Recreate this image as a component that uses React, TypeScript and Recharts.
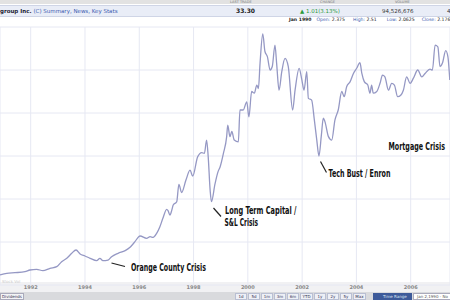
import { CartesianGrid, Line, LineChart, XAxis, YAxis } from "recharts";

// monthly-ish closes (split adjusted, USD)
const years = [
  1990.87, 1991.12, 1991.42, 1991.79, 1991.97, 1992.22, 1992.45, 1992.71, 1992.96, 1993.14,
  1993.33, 1993.51, 1993.67, 1993.82, 1994.0, 1994.19, 1994.43, 1994.55, 1994.66, 1994.85,
  1994.98, 1995.22, 1995.48, 1995.66, 1995.77, 1995.84, 1996.03, 1996.27, 1996.4, 1996.51,
  1996.64, 1996.76, 1996.87, 1997.01, 1997.06, 1997.13, 1997.2, 1997.25, 1997.38, 1997.46,
  1997.56, 1997.72, 1997.87, 1997.97, 1998.15, 1998.3, 1998.4, 1998.48, 1998.54, 1998.61,
  1998.66, 1998.79, 1998.9, 1998.98, 1999.1, 1999.22, 1999.26, 1999.34, 1999.41, 1999.5,
  1999.65, 1999.71, 1999.83, 1999.96, 2000.04, 2000.14, 2000.24, 2000.33, 2000.39, 2000.45,
  2000.55, 2000.63, 2000.72, 2000.82, 2000.9, 2001.0, 2001.06, 2001.15, 2001.25, 2001.37,
  2001.49, 2001.65, 2001.74, 2001.89, 2001.99, 2002.07, 2002.17, 2002.23, 2002.35, 2002.45,
  2002.54, 2002.62, 2002.71, 2002.78, 2002.84, 2002.97, 2003.09, 2003.21, 2003.33, 2003.46,
  2003.55, 2003.64, 2003.77, 2003.89, 2004.01, 2004.13, 2004.2, 2004.29, 2004.42, 2004.5,
  2004.56, 2004.62, 2004.75, 2004.87, 2004.96, 2005.05, 2005.18, 2005.3, 2005.4, 2005.52,
  2005.64, 2005.73, 2005.85, 2005.98, 2006.1, 2006.26, 2006.41, 2006.53, 2006.71, 2006.8,
  2006.9, 2007.0, 2007.08, 2007.17, 2007.29, 2007.37, 2007.44,
];
const prices = [
  2.33, 2.72, 2.86, 3.09, 3.49, 3.65, 3.33, 3.88, 4.26, 5.42,
  6.21, 7.37, 8.14, 7.21, 6.74, 6.21, 5.65, 6.21, 5.65, 5.81,
  6.58, 7.37, 7.98, 8.77, 9.53, 10.07, 11.4, 10.86, 11.23, 11.09,
  12.02, 13.56, 15.51, 17.6, 17.28, 16.28, 17.44, 18.6, 19.37, 23.4,
  21.5, 24.4, 26.7, 25.3, 29.8, 30.8, 30.6, 33.7, 29.8, 22.1,
  19.4, 23.5, 26.3, 27.5, 30.6, 34.5, 37.2, 34.5, 35.7, 33.7,
  33.3, 40.7, 40.7, 42.6, 39.1, 45.0, 44.6, 46.5, 45.7, 51.6,
  58.4, 54.3, 53.1, 50.0, 50.8, 55.8, 51.6, 45.3, 49.6, 52.7,
  50.8, 40.7, 45.3, 50.4, 47.7, 45.3, 49.6, 43.4, 43.0, 38.4,
  33.7, 30.0, 34.9, 38.8, 38.0, 34.5, 33.7, 38.4, 40.7, 45.0,
  43.8, 46.1, 47.3, 49.2, 50.4, 51.7, 49.2, 47.3, 46.5, 44.6,
  46.5, 44.6, 45.0, 46.9, 48.8, 48.4, 45.3, 46.9, 46.5, 43.8,
  44.2, 45.3, 48.4, 46.9, 48.1, 50.0, 48.4, 49.2, 50.2, 50.0,
  55.8, 55.4, 50.8, 51.6, 54.5, 53.1, 47.7,
];
const yearTicks = [1992, 1994, 1996, 1998, 2000, 2002, 2004, 2006];
const priceTicks = [10, 20, 30, 40, 50];
const periodButtons = ["1d", "5d", "1m", "3m", "6m", "YTD", "1y", "2y", "5y", "Max"];

const data = years.map((t, i) => ({ t, price: prices[i] }));

const annoFont = "'Liberation Sans Narrow', 'DejaVu Sans Condensed', 'Liberation Sans', sans-serif";

export default function App() {
  return (
    <div
      style={{
        position: "absolute",
        left: 0,
        top: 0,
        width: 450,
        height: 300,
        overflow: "hidden",
        background: "#fff",
        fontFamily: "'DejaVu Sans', Verdana, sans-serif",
      }}
    >
      {/* quote header */}
      <div style={{ position: "absolute", left: 0, top: 0, width: 450, height: 4, background: "#e2e2e2" }}>
        <span style={{ position: "absolute", left: 230, top: 0, fontSize: 3.5, color: "#777", lineHeight: "4px" }}>LAST TRADE</span>
        <span style={{ position: "absolute", left: 320, top: 0, fontSize: 3.5, color: "#777", lineHeight: "4px" }}>CHANGE</span>
        <span style={{ position: "absolute", left: 395, top: 0, fontSize: 3.5, color: "#777", lineHeight: "4px" }}>VOLUME</span>
      </div>
      <div
        style={{
          position: "absolute",
          left: 0,
          top: 5,
          width: 450,
          height: 10,
          background: "#e9edf7",
          borderTop: "1px solid #cfd5e6",
          borderBottom: "1px solid #cfd5e6",
          fontSize: 5.5,
          lineHeight: "10px",
        }}
      >
        <span style={{ position: "absolute", left: 0, fontWeight: "bold", color: "#223" }}>
          group Inc. <span style={{ color: "#3b5bb0", fontWeight: "normal" }}>(C) Summary, News, Key Stats</span>
        </span>
        <span style={{ position: "absolute", left: 236, fontWeight: "bold", color: "#222", fontSize: 6 }}>33.30</span>
        <span style={{ position: "absolute", left: 300, color: "#2a9a3a" }}>▲ 1.01(3.13%)</span>
        <span style={{ position: "absolute", left: 382, color: "#333" }}>94,526,676</span>
        <span style={{ position: "absolute", left: 447, color: "#333" }}>4</span>
      </div>
      <div style={{ position: "absolute", left: 289, top: 17, fontSize: 4.6, lineHeight: "6px", whiteSpace: "nowrap", color: "#222" }}>
        <b>Jan 1990</b>
        <span style={{ marginLeft: 5, color: "#3b5bb0" }}>Open:</span> 2.375
        <span style={{ marginLeft: 8, color: "#3b5bb0" }}>High:</span> 2.51
        <span style={{ marginLeft: 10, color: "#3b5bb0" }}>Low:</span> 2.0625
        <span style={{ marginLeft: 7, color: "#3b5bb0" }}>Close:</span> 2.176
      </div>

      {/* axis label strip */}
      <div style={{ position: "absolute", left: 0, top: 282, width: 450, height: 10, background: "#f1f1f3" }} />
      <div style={{ position: "absolute", left: 2, top: 279, fontSize: 4, color: "#ccc" }}>Stock Vol</div>

      <div style={{ position: "absolute", left: 0, top: 0 }}>
        <LineChart width={450} height={292} data={data} margin={{ top: 27, right: 0, bottom: 0, left: 0 }}>
          <CartesianGrid stroke="#e6e8f3" strokeWidth={1} />
          <XAxis
            dataKey="t"
            type="number"
            domain={[1990.869, 2007.448]}
            ticks={yearTicks}
            allowDataOverflow
            height={7}
            tickSize={0}
            tickMargin={0}
            axisLine={false}
            tickLine={false}
            tick={{ fontSize: 5, fill: "#888", fontWeight: "bold" }}
          />
          <YAxis hide type="number" domain={[0, 60]} ticks={priceTicks} />
          <Line
            type="monotone"
            dataKey="price"
            stroke="#9598c4"
            strokeWidth={1.3}
            dot={false}
            isAnimationActive={false}
          />
        </LineChart>
      </div>

      {/* annotations */}
      <svg width={450} height={300} style={{ position: "absolute", left: 0, top: 0, pointerEvents: "none" }}>
        <g stroke="#222" strokeWidth={1.2}>
          <line x1={111.5} y1={263} x2={125} y2={266.5} />
          <line x1={213.5} y1={208} x2={221} y2={216.5} />
          <line x1={320.5} y1={161.5} x2={326.5} y2={172.5} />
        </g>
        <g fontFamily={annoFont} fontWeight="bold" fontSize={10} fill="#111">
          <text x={131} y={271} textLength={75} lengthAdjust="spacingAndGlyphs">Orange County Crisis</text>
          <text x={225} y={213.5} textLength={71.5} lengthAdjust="spacingAndGlyphs">Long Term Capital /</text>
          <text x={224.5} y={225.5} textLength={33.5} lengthAdjust="spacingAndGlyphs">S&amp;L Crisis</text>
          <text x={328.5} y={176.5} textLength={62} lengthAdjust="spacingAndGlyphs">Tech Bust / Enron</text>
          <text
            x={0}
            y={0}
            transform="translate(388.5 150) scale(0.66 1)"
            textLength={85.6}
            lengthAdjust="spacingAndGlyphs"
          >
            Mortgage Crisis
          </text>
        </g>
      </svg>

      {/* toolbar */}
      <div style={{ position: "absolute", left: 0, top: 292, width: 450, height: 8, background: "#d9dadd" }}>
        <div
          style={{
            position: "absolute",
            left: 0,
            top: 1,
            width: 24,
            height: 7,
            background: "#f3f4f6",
            border: "1px solid #aab",
            boxSizing: "border-box",
            fontSize: 4,
            lineHeight: "6px",
            color: "#335",
            paddingLeft: 1,
          }}
        >
          Dividends
        </div>
        <div style={{ position: "absolute", left: 235, top: 1, display: "flex", gap: 1 }}>
          {periodButtons.map((b) => (
            <div
              key={b}
              style={{
                width: b === "YTD" || b === "Max" ? 13 : 12,
                height: 7,
                background: "#eef0f6",
                border: "1px solid #b9bfd3",
                boxSizing: "border-box",
                fontSize: 4,
                lineHeight: "5px",
                textAlign: "center",
                color: "#335",
              }}
            >
              {b}
            </div>
          ))}
        </div>
        <div
          style={{
            position: "absolute",
            left: 373,
            top: 1,
            width: 39,
            height: 7,
            background: "#3d5a99",
            fontSize: 4,
            lineHeight: "7px",
            color: "#dfe6f5",
            paddingLeft: 10,
            boxSizing: "border-box",
          }}
        >
          Time Range
        </div>
        <div
          style={{
            position: "absolute",
            left: 413,
            top: 1,
            width: 40,
            height: 7,
            background: "#fff",
            border: "1px solid #aab",
            boxSizing: "border-box",
            fontSize: 4,
            lineHeight: "5px",
            color: "#555",
            paddingLeft: 3,
            whiteSpace: "nowrap",
          }}
        >
          Jan 2,1990 - No
        </div>
      </div>
    </div>
  );
}
